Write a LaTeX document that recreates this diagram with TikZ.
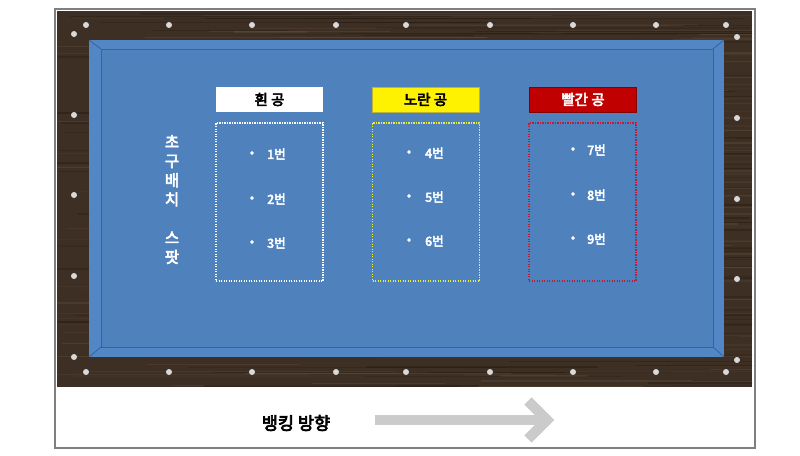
\documentclass[tikz,border=0pt]{standalone}
\usepackage{fontspec}
\setmainfont{Noto Sans CJK KR}
\newfontfamily\krbold{Noto Sans CJK KR}[FakeBold=4]
\definecolor{woodbase}{HTML}{3D2F23}
\definecolor{woodlight}{HTML}{8A735C}
\definecolor{wooddark}{HTML}{221810}
\definecolor{felt}{HTML}{4F81BD}
\definecolor{cushion}{HTML}{5286C4}
\definecolor{feltline}{HTML}{34649E}
\definecolor{diamondc}{HTML}{D9D9D9}
\definecolor{redball}{HTML}{C00000}
\definecolor{reddot}{HTML}{B8203A}
\definecolor{yellowdot}{HTML}{E6F03C}
\definecolor{arrowgray}{HTML}{CBCBCB}
\definecolor{framegray}{HTML}{7F7F7F}
\begin{document}
\begin{tikzpicture}[x=1pt,y=-1pt,
  lab/.style={minimum width=107pt, minimum height=25pt, inner sep=0pt, font=\krbold\fontsize{14.5}{16}\selectfont},
  dotbox/.style={minimum width=107pt, minimum height=158pt, inner sep=0pt, line width=1.2pt, dash pattern=on 1.2pt off 1.3pt},
  item/.style={text=white, font=\krbold\fontsize{12.5}{14}\selectfont, inner sep=0pt, anchor=west},
  bul/.style={text=white, font=\krbold\fontsize{12}{14}\selectfont, inner sep=0pt},
  diam/.style={circle, fill=diamondc, minimum size=6pt, inner sep=0pt},
  rail/.style={feltline, line width=0.8pt}]
\useasboundingbox (0,0) rectangle (800,455);
% frame
\draw[framegray, line width=1.4pt, fill=white] (55,9) rectangle (755,448);
% wood
\fill[woodbase] (57,11) rectangle (752,387);
\begin{scope}
\clip (57,11) rectangle (752,387);
\pgfmathsetseed{12}
\foreach \i in {1,...,220}{
  \pgfmathsetmacro\yy{11+376*rnd}
  \pgfmathsetmacro\ww{0.4+1.2*rnd}
  \pgfmathsetmacro\op{0.05+0.15*rnd}
  \pgfmathsetmacro\xa{20+700*rnd}
  \pgfmathsetmacro\xl{60+300*rnd}
  \draw[woodlight, line width=\ww pt, opacity=\op] (\xa,\yy) -- ++(\xl,0);
}
\foreach \i in {1,...,120}{
  \pgfmathsetmacro\yy{11+376*rnd}
  \pgfmathsetmacro\ww{0.5+1.5*rnd}
  \pgfmathsetmacro\op{0.15+0.3*rnd}
  \pgfmathsetmacro\xa{20+700*rnd}
  \pgfmathsetmacro\xl{80+400*rnd}
  \draw[wooddark, line width=\ww pt, opacity=\op] (\xa,\yy) -- ++(\xl,0);
}
\end{scope}
% cushion and felt
\fill[cushion] (89,40) rectangle (724,357);
\fill[felt] (101,49) rectangle (713,347);
\draw[rail] (101,49) rectangle (713,347);
\draw[rail] (89,40) -- (101,49);
\draw[rail] (724,40) -- (713,49);
\draw[rail] (724,357) -- (713,347);
\draw[rail] (89,357) -- (101,347);
% diamonds
\foreach \x [count=\k] in {86,169,252,336,406,490,573,656,726}{
  \node[diam] (dt\k) at (\x,25) {};
  \node[diam] (db\k) at (\x,372) {};
}
\foreach \y [count=\k] in {34,115,195,276,357}{
  \node[diam] (dl\k) at (74,\y) {};
}
\foreach \y [count=\k] in {37,118,199,279,360}{
  \node[diam] (dr\k) at (737,\y) {};
}
% title
\node[text=white, font=\krbold\fontsize{15.5}{19.2}\selectfont, align=center, inner sep=0pt] (title) at (172,199.5) {초\\구\\배\\치\\\mbox{}\\스\\팟};
% labels
\node[lab, fill=white] (wl) at (269.5,99.5) {흰 공};
\node[lab, fill=yellow, draw=yellow!70!black, line width=0.5pt] (yl) at (425.5,99.5) {노란 공};
\node[lab, fill=redball, draw=redball!70!black, line width=0.5pt, text=white] (rl) at (583,99.5) {빨간 공};
% dotted boxes
\node[dotbox, draw=white] (wb) at (269.5,202) {};
\node[dotbox, draw=yellowdot] (yb) at (426,202) {};
\node[dotbox, draw=reddot] (rb) at (582.5,202) {};
% items
\node[bul] (b1) at (252,154) {•};
\node[item] (t1) at (267,154) {1번};
\node[bul] (b2) at (252,199) {•};
\node[item] (t2) at (267,199) {2번};
\node[bul] (b3) at (252,243) {•};
\node[item] (t3) at (267,243) {3번};
\node[bul] (b4) at (409,153) {•};
\node[item] (t4) at (425,153) {4번};
\node[bul] (b5) at (409,197) {•};
\node[item] (t5) at (425,197) {5번};
\node[bul] (b6) at (409,241) {•};
\node[item] (t6) at (425,241) {6번};
\node[bul] (b7) at (573,150) {•};
\node[item] (t7) at (587,150) {7번};
\node[bul] (b8) at (573,195) {•};
\node[item] (t8) at (587,195) {8번};
\node[bul] (b9) at (573,239) {•};
\node[item] (t9) at (587,239) {9번};
% banking direction
\node[font=\krbold\fontsize{17.5}{20}\selectfont, inner sep=0pt] (bank) at (296,423) {뱅킹 방향};
\coordinate (as) at (375,420);
\coordinate (ae) at (545,420);
\coordinate (h1) at (528,401);
\coordinate (ht) at (547,420);
\coordinate (h2) at (528,439);
\begin{scope}[shift={(1.5,1.5)}]
\draw[black, opacity=0.12, line width=10pt] (as) -- (ae);
\draw[black, opacity=0.12, line width=10pt, line join=miter] (h1) -- (ht) -- (h2);
\end{scope}
\draw[arrowgray, line width=10pt] (as) -- (ae);
\draw[arrowgray, line width=10pt, line join=miter] (h1) -- (ht) -- (h2);
\end{tikzpicture}
\end{document}
